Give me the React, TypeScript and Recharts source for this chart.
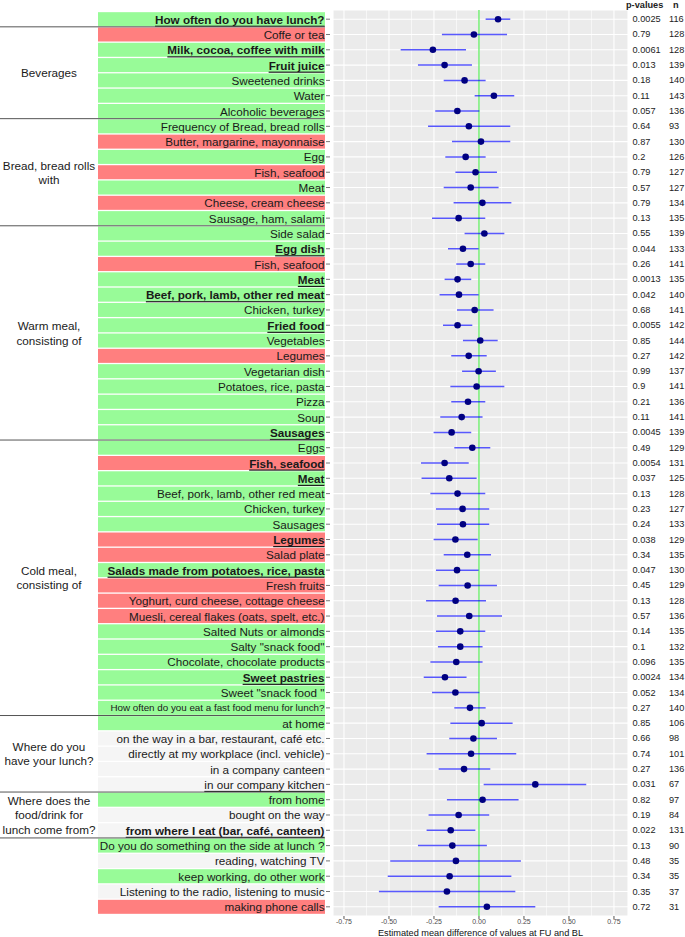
import React from 'react';
import {
  ScatterChart, Scatter, ErrorBar,
  XAxis, YAxis, CartesianGrid, ReferenceLine,
} from 'recharts';

// rows, top to bottom
const LABELS = [
  'How often do you have lunch?', 'Coffe or tea', 'Milk, cocoa, coffee with milk', 'Fruit juice',
  'Sweetened drinks', 'Water', 'Alcoholic beverages',
  'Frequency of Bread, bread rolls', 'Butter, margarine, mayonnaise', 'Egg', 'Fish, seafood', 'Meat',
  'Cheese, cream cheese', 'Sausage, ham, salami',
  'Side salad', 'Egg dish', 'Fish, seafood', 'Meat', 'Beef, pork, lamb, other red meat', 'Chicken, turkey',
  'Fried food', 'Vegetables', 'Legumes', 'Vegetarian dish', 'Potatoes, rice, pasta', 'Pizza', 'Soup', 'Sausages',
  'Eggs', 'Fish, seafood', 'Meat', 'Beef, pork, lamb, other red meat', 'Chicken, turkey', 'Sausages', 'Legumes',
  'Salad plate', 'Salads made from potatoes, rice, pasta', 'Fresh fruits', 'Yoghurt, curd cheese, cottage cheese',
  'Muesli, cereal flakes (oats, spelt, etc.)', 'Salted Nuts or almonds', 'Salty "snack food"',
  'Chocolate, chocolate products', 'Sweet pastries', 'Sweet "snack food "',
  'How often do you eat a fast food menu for lunch?',
  'at home', 'on the way in a bar, restaurant, café etc.', 'directly at my workplace (incl. vehicle)',
  'in a company canteen', 'in our company kitchen',
  'from home', 'bought on the way', 'from where I eat (bar, café, canteen)',
  'Do you do something on the side at lunch ?', 'reading, watching TV', 'keep working, do other work',
  'Listening to the radio, listening to music', 'making phone calls',
];

// g = green, r = red, w = light grey
const FILLS = [
  'g', 'r', 'g', 'g', 'g', 'g', 'g',
  'g', 'r', 'g', 'r', 'g', 'r', 'g',
  'g', 'g', 'r', 'g', 'g', 'g', 'g', 'g', 'r', 'g', 'g', 'g', 'g', 'g',
  'g', 'r', 'g', 'g', 'g', 'g', 'r', 'r', 'g', 'r', 'r', 'r', 'g', 'g', 'g', 'g', 'g', 'g',
  'g', 'w', 'w', 'w', 'w',
  'g', 'w', 'w',
  'g', 'w', 'g', 'w', 'r',
];

// b = bold + underline, u = underline, s = small
const STYLES = [
  'b', '', 'b', 'b', '', '', '',
  '', '', '', '', '', '', '',
  '', 'b', '', 'b', 'b', '', 'b', '', '', '', '', '', '', 'b',
  '', 'b', 'b', '', '', '', 'b', '', 'b', '', '', '', '', '', '', 'b', '', 's',
  '', '', '', '', 'u',
  '', '', 'b',
  '', '', '', '', '',
];

const ESTIMATES = [
  0.106, -0.028, -0.256, -0.191, -0.080, 0.083, -0.120, -0.056, 0.011, -0.074,
  -0.019, -0.046, 0.019, -0.113, 0.030, -0.089, -0.046, -0.119, -0.111, -0.024,
  -0.119, 0.007, -0.057, -0.002, -0.013, -0.061, -0.096, -0.152, -0.037, -0.191,
  -0.165, -0.119, -0.091, -0.089, -0.131, -0.065, -0.122, -0.063, -0.130, -0.054,
  -0.104, -0.104, -0.126, -0.189, -0.131, -0.050, 0.015, -0.031, -0.044, -0.083,
  0.313, 0.020, -0.113, -0.157, -0.148, -0.128, -0.163, -0.178, 0.044,
];

const LOWER = [
  0.037, -0.206, -0.435, -0.339, -0.196, -0.024, -0.243, -0.283, -0.150, -0.187,
  -0.131, -0.196, -0.141, -0.261, -0.080, -0.172, -0.126, -0.191, -0.219, -0.122,
  -0.200, -0.089, -0.154, -0.094, -0.159, -0.154, -0.215, -0.252, -0.137, -0.322,
  -0.319, -0.270, -0.239, -0.233, -0.252, -0.196, -0.239, -0.224, -0.294, -0.233,
  -0.239, -0.228, -0.270, -0.307, -0.261, -0.137, -0.159, -0.165, -0.291, -0.224,
  0.026, -0.178, -0.280, -0.291, -0.339, -0.493, -0.507, -0.556, -0.224,
];

const UPPER = [
  0.174, 0.156, -0.072, -0.039, 0.037, 0.196, 0.002, 0.174, 0.174, 0.037,
  0.100, 0.109, 0.180, 0.035, 0.141, -0.002, 0.035, -0.043, -0.002, 0.081,
  -0.037, 0.104, 0.043, 0.094, 0.141, 0.035, 0.020, -0.043, 0.063, -0.057,
  -0.013, 0.035, 0.057, 0.057, -0.007, 0.067, -0.002, 0.100, 0.039, 0.128,
  0.035, 0.020, 0.020, -0.069, 0.002, 0.037, 0.187, 0.100, 0.207, 0.063,
  0.596, 0.220, 0.057, -0.020, 0.044, 0.233, 0.180, 0.202, 0.313,
];

const P_VALUES = [
  '0.0025', '0.79', '0.0061', '0.013', '0.18', '0.11', '0.057', '0.64', '0.87', '0.2',
  '0.79', '0.57', '0.79', '0.13', '0.55', '0.044', '0.26', '0.0013', '0.042', '0.68',
  '0.0055', '0.85', '0.27', '0.99', '0.9', '0.21', '0.11', '0.0045', '0.49', '0.0054',
  '0.037', '0.13', '0.23', '0.24', '0.038', '0.34', '0.047', '0.45', '0.13', '0.57',
  '0.14', '0.1', '0.096', '0.0024', '0.052', '0.27', '0.85', '0.66', '0.74', '0.27',
  '0.031', '0.82', '0.19', '0.022', '0.13', '0.48', '0.34', '0.35', '0.72',
];

const N_VALUES = [
  116, 128, 128, 139, 140, 143, 136, 93, 130, 126,
  127, 127, 134, 135, 139, 133, 141, 135, 140, 141,
  142, 144, 142, 137, 141, 136, 141, 139, 129, 131,
  125, 128, 127, 133, 129, 135, 130, 129, 128, 136,
  135, 132, 135, 134, 134, 140, 106, 98, 101, 136,
  67, 97, 84, 131, 90, 35, 35, 37, 31,
];

const GROUPS = [
  { lines: ['Beverages'], from: 1, to: 6 },
  { lines: ['Bread, bread rolls', 'with'], from: 7, to: 13 },
  { lines: ['Warm meal,', 'consisting of'], from: 14, to: 27 },
  { lines: ['Cold meal,', 'consisting of'], from: 28, to: 45 },
  { lines: ['Where do you', 'have your lunch?'], from: 46, to: 50 },
  { lines: ['Where does the', 'food/drink for', 'lunch come from?'], from: 51, to: 53 },
];
const SEPARATORS = [1, 7, 14, 28, 46, 51, 54];

const X_TICKS = [-0.75, -0.5, -0.25, 0, 0.25, 0.5, 0.75];
const X_MINOR = [-0.625, -0.375, -0.125, 0.125, 0.375, 0.625];

const FILL_COLORS: Record<string, string> = { g: '#98FB98', r: '#FF7F7F', w: '#F5F5F5' };
const FONT = "'Liberation Sans', Arial, sans-serif";

const W = 685;
const H = 937;
const TOP = 10;
const X_AXIS_H = 21;
const ROW_H = (H - TOP - X_AXIS_H) / 59.2;

const data = ESTIMATES.map((est, i) => ({
  x: est,
  y: i,
  err: [est - LOWER[i], UPPER[i] - est],
}));

function RowTick(props: any) {
  const { y, payload } = props;
  const i = Math.round(payload.value);
  if (i < 0 || i >= LABELS.length) return null;
  const style = STYLES[i];
  const group = GROUPS.find((g) => g.from === i);
  return (
    <g>
      <rect x={98} y={y - 7} width={227} height={14} fill={FILL_COLORS[FILLS[i]]} />
      <line x1={326} x2={330} y1={y} y2={y} stroke="#555" strokeWidth={0.8} />
      <text
        x={324.5}
        y={y}
        textAnchor="end"
        dominantBaseline="central"
        fontSize={style === 's' ? 9.8 : 11.7}
        fontWeight={style === 'b' ? 'bold' : 'normal'}
        textDecoration={style === 'b' || style === 'u' ? 'underline' : 'none'}
        fill="#1a1a1a"
      >
        {LABELS[i]}
      </text>
      <text x={632.5} y={y} dominantBaseline="central" fontSize={9.2} fill="#222">
        {P_VALUES[i]}
      </text>
      <text x={669} y={y} dominantBaseline="central" fontSize={9.2} fill="#222">
        {N_VALUES[i]}
      </text>
      {SEPARATORS.includes(i) && (
        <line x1={0} x2={325} y1={y - ROW_H / 2} y2={y - ROW_H / 2} stroke="#555" strokeWidth={1} />
      )}
      {group && (
        <text x={49} textAnchor="middle" fontSize={11.7} fill="#1a1a1a">
          {group.lines.map((line, k) => (
            <tspan
              key={k}
              x={49}
              y={y + ((group.to - group.from) / 2) * ROW_H + (k - (group.lines.length - 1) / 2) * 14.3}
              dominantBaseline="central"
            >
              {line}
            </tspan>
          ))}
        </text>
      )}
      {i === 0 && (
        <g>
          <text x={626} y={4.5} dominantBaseline="central" fontSize={9.2} fontWeight="bold" fill="#222">p-values</text>
          <text x={673} y={4.5} dominantBaseline="central" fontSize={9.2} fontWeight="bold" fill="#222">n</text>
        </g>
      )}
    </g>
  );
}

export default function App() {
  return (
    <div style={{ position: 'absolute', left: 0, top: 0, width: W, height: H, background: '#fff', fontFamily: FONT }}>
      <ScatterChart width={W} height={H} margin={{ top: TOP, right: 57, bottom: 0, left: 0 }}>
        <CartesianGrid
          fill="#EBEBEB"
          stroke="#fff"
          strokeWidth={0.6}
          horizontal={false}
          verticalValues={X_MINOR}
        />
        <CartesianGrid stroke="#fff" strokeWidth={1.1} />
        <XAxis
          type="number"
          dataKey="x"
          domain={[-0.811, 0.828]}
          ticks={X_TICKS}
          tickFormatter={(v: number) => v.toFixed(2)}
          tick={{ fontSize: 7, fill: '#4d4d4d' }}
          tickSize={3}
          tickMargin={0}
          tickLine={{ stroke: '#555' }}
          axisLine={false}
          height={X_AXIS_H}
          label={{
            value: 'Estimated mean difference of values at FU and BL',
            position: 'insideBottom',
            offset: 1,
            style: { fontSize: 9.2, fill: '#111' },
          }}
        />
        <YAxis
          type="number"
          dataKey="y"
          domain={[-0.6, 58.6]}
          reversed
          ticks={LABELS.map((_, i) => i)}
          interval={0}
          width={333}
          tickLine={false}
          axisLine={false}
          tick={<RowTick />}
        />
        <ReferenceLine x={0} stroke="#33e833" strokeWidth={1} />
        <Scatter
          data={data}
          isAnimationActive={false}
          shape={(p: any) => <circle cx={p.cx} cy={p.cy} r={3.3} fill="#000080" />}
        >
          <ErrorBar dataKey="err" direction="x" width={0} stroke="#0000ff" strokeOpacity={0.65} strokeWidth={1.5} />
        </Scatter>
      </ScatterChart>
    </div>
  );
}
